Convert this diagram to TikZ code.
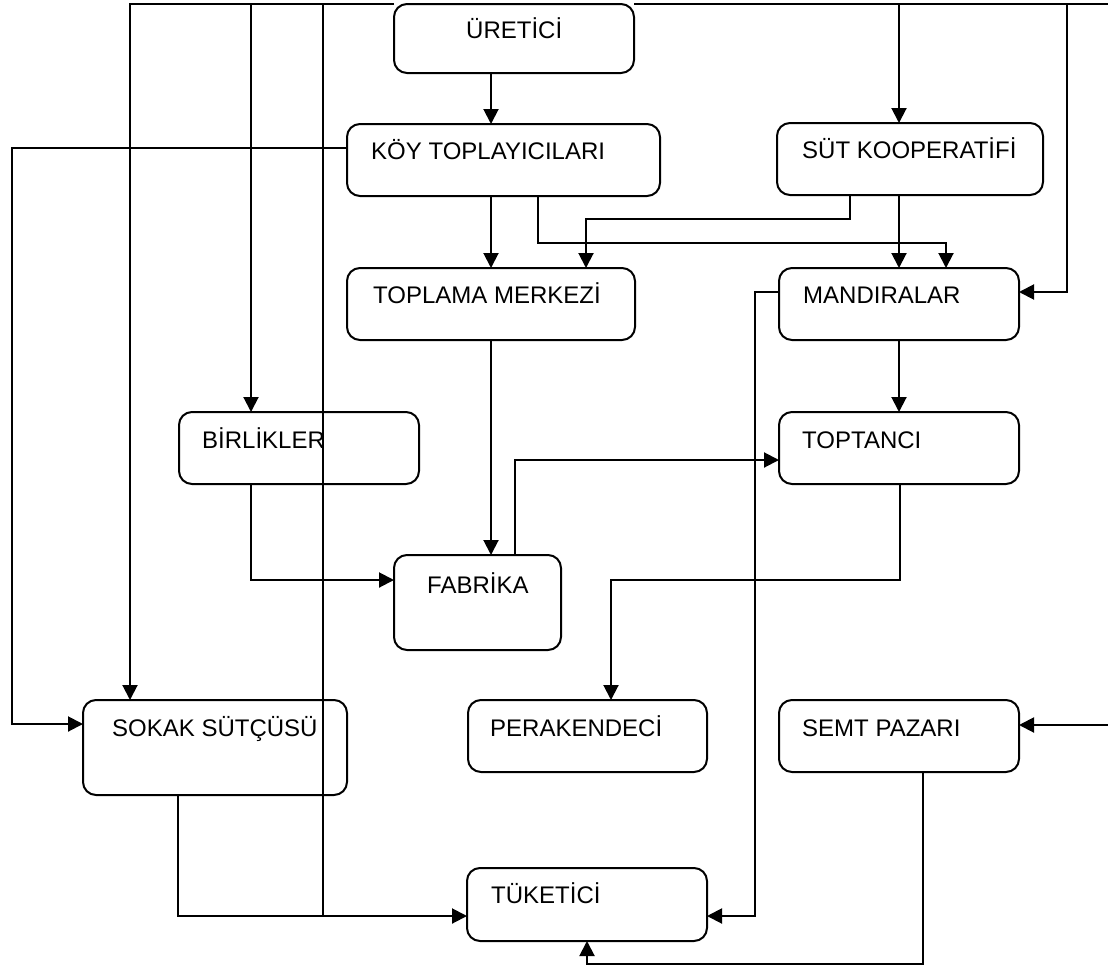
\documentclass[tikz,border=0pt]{standalone}
\usepackage{fontspec}
\setmainfont{Liberation Sans}
\usetikzlibrary{arrows.meta}
\begin{document}
\begin{tikzpicture}[x=1pt,y=-1pt,
  ln/.style={line width=2pt, line join=miter},
  arr/.style={ln, -{Triangle[length=15pt,width=15pt]}},
  box/.style={draw, line width=2pt, rounded corners=13pt, inner sep=0pt, outer sep=0pt, anchor=north west},
  lbl/.style={inner sep=0pt, anchor=base west, font=\fontsize{24}{28}\selectfont}]
\useasboundingbox (0,0) rectangle (1108,969);
% boxes
\node[box, minimum width=240pt, minimum height=69pt] (ure) at (394,4) {};
\node[box, minimum width=313pt, minimum height=72pt] (koy) at (347,124) {};
\node[box, minimum width=266pt, minimum height=72pt] (sut) at (777,123) {};
\node[box, minimum width=288pt, minimum height=72pt] (top) at (347,268) {};
\node[box, minimum width=240pt, minimum height=72pt] (man) at (779,268) {};
\node[box, minimum width=240pt, minimum height=72pt] (bir) at (179,412) {};
\node[box, minimum width=240pt, minimum height=72pt] (topt) at (779,412) {};
\node[box, minimum width=167pt, minimum height=95pt] (fab) at (394,555) {};
\node[box, minimum width=264pt, minimum height=95pt] (sok) at (83,700) {};
\node[box, minimum width=239pt, minimum height=72pt] (per) at (468,700) {};
\node[box, minimum width=240pt, minimum height=72pt] (sem) at (779,700) {};
\node[box, minimum width=240pt, minimum height=73pt] (tuk) at (467,868) {};
% labels
\node[lbl] (ureT) at (466,38) {ÜRETİCİ};
\node[lbl] (koyT) at (371,159) {KÖY TOPLAYICILARI};
\node[lbl] (sutT) at (802,158) {SÜT KOOPERATİFİ};
\node[lbl] (topT) at (373,303) {TOPLAMA MERKEZİ};
\node[lbl] (manT) at (803,303) {MANDIRALAR};
\node[lbl] (birT) at (202,448) {BİRLİKLER};
\node[lbl] (toptT) at (802,448) {TOPTANCI};
\node[lbl] (fabT) at (427,593) {FABRİKA};
\node[lbl] (sokT) at (112,736) {SOKAK SÜTÇÜSÜ};
\node[lbl] (perT) at (490,736) {PERAKENDECİ};
\node[lbl] (semT) at (802,736) {SEMT PAZARI};
\node[lbl] (tukT) at (491,903) {TÜKETİCİ};
% helper coordinates
\coordinate (x491) at (491,0);
\coordinate (x899) at (899,0);
\coordinate (k1) at (538,243);
\coordinate (k2) at (946,243);
\coordinate (s1) at (850,219);
\coordinate (s2) at (586,219);
\coordinate (b1) at (251,580);
\coordinate (f1) at (515,460);
\coordinate (t1) at (900,580);
\coordinate (t2) at (611,580);
\coordinate (m1) at (755,292);
\coordinate (m2) at (755,916);
\coordinate (p1) at (923,964);
\coordinate (p2) at (587,964);
\coordinate (j) at (178,916);
\coordinate (l1) at (12,148);
\coordinate (l2) at (12,724);
\coordinate (tA) at (130,4);
\coordinate (tB) at (251,4);
\coordinate (tC) at (323,4);
\coordinate (tD) at (899,4);
\coordinate (tE) at (1067,4);
\coordinate (tF) at (1110,4);
\coordinate (e1) at (1110,725);
\coordinate (e2) at (1067,292);
% connectors
\draw[arr] (ure.south -| x491) -- (koy.north -| x491);
\draw[arr] (koy.south -| x491) -- (top.north -| x491);
\draw[arr] (koy.south -| k1) -- (k1) -- (k2) -- (k2 |- man.north);
\draw[arr] (sut.south -| s1) -- (s1) -- (s2) -- (s2 |- top.north);
\draw[arr] (sut.south -| x899) -- (man.north -| x899);
\draw[arr] (top.south -| x491) -- (fab.north -| x491);
\draw[arr] (man.south -| x899) -- (topt.north -| x899);
\draw[arr] (bir.south -| b1) -- (b1) -- (b1 -| fab.west);
\draw[arr] (fab.north -| f1) -- (f1) -- (f1 -| topt.west);
\draw[arr] (topt.south -| t1) -- (t1) -- (t2) -- (t2 |- per.north);
\draw[arr] (man.west |- m1) -- (m1) -- (m2) -- (m2 -| tuk.east);
\draw[arr] (sem.south -| p1) -- (p1) -- (p2) -- (p2 |- tuk.south);
\draw[arr] (sok.south -| j) -- (j) -- (j -| tuk.west);
\draw[arr] (koy.west |- l1) -- (l1) -- (l2) -- (l2 -| sok.west);
\draw[arr] (ure.north west) -- (tA) -- (tA |- sok.north);
\draw[arr] (tB) -- (tB |- bir.north);
\draw[ln] (tC) -- (tC |- j);
\draw[arr] (tD) -- (tD |- sut.north);
\draw[arr] (ure.north east) -- (tF) -- (e1) -- (e1 -| sem.east);
\draw[arr] (tE) -- (e2) -- (e2 -| man.east);
\end{tikzpicture}
\end{document}
